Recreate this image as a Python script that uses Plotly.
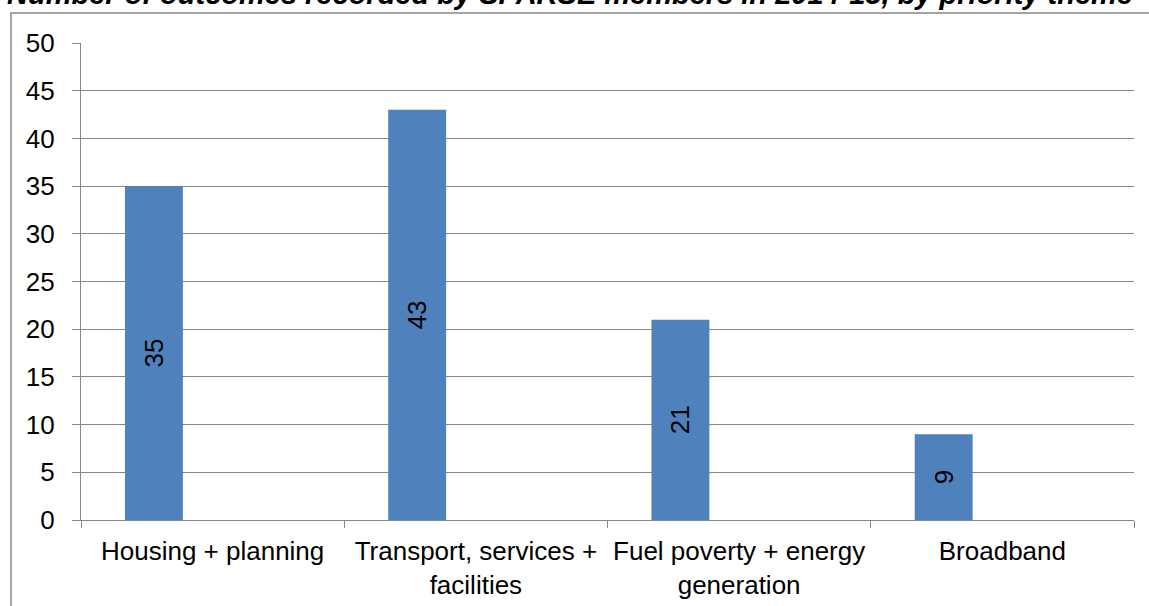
import plotly.graph_objects as go

# Outcomes per priority theme
themes = [
    "Housing + planning",
    "Transport, services +<br>facilities",
    "Fuel poverty + energy<br>generation",
    "Broadband",
]
outcomes = [35, 43, 21, 9]

title_text = "Number of outcomes recorded by SPARSE members in 2014-15, by priority theme"

W, H = 1149, 606
ML, MR, MT, MB = 81, 15, 43, 86
PW, PH = W - ML - MR, H - MT - MB

def px_x(x):
    return (x - ML) / PW

def px_y(y):
    return (H - MB - y) / PH

FONT = "Liberation Sans, Arial, sans-serif"
GRID = "#868686"

fig = go.Figure()
fig.add_trace(go.Bar(
    x=themes,
    y=outcomes,
    width=0.22,
    offset=-0.333,
    marker=dict(color="#4f81bd", line=dict(width=0)),
    text=[str(v) for v in outcomes],
    textposition="inside",
    insidetextanchor="middle",
    textangle=-90,
    textfont=dict(family=FONT, size=26, color="#000000"),
    hoverinfo="skip",
))

fig.update_layout(
    width=W, height=H,
    margin=dict(l=ML, r=MR, t=MT, b=MB, pad=0),
    paper_bgcolor="#ffffff",
    plot_bgcolor="#ffffff",
    showlegend=False,
    font=dict(family=FONT, size=26, color="#000000"),
    xaxis=dict(
        type="category",
        tickson="boundaries",
        ticks="outside", ticklen=7, tickwidth=1.3, tickcolor=GRID,
        showline=True, linecolor=GRID, linewidth=1.3,
        showgrid=False, zeroline=False,
        ticklabelstandoff=8,
        automargin=False,
        tickfont=dict(family=FONT, size=26, color="#000000"),
        range=[-0.5, 3.5],
        fixedrange=True,
    ),
    yaxis=dict(
        range=[0, 50], dtick=5, tick0=0,
        ticks="outside", ticklen=8, tickwidth=1.3, tickcolor=GRID,
        showline=True, linecolor=GRID, linewidth=1.3,
        showgrid=True, gridcolor=GRID, gridwidth=1.3,
        zeroline=False,
        ticklabelstandoff=12,
        automargin=False,
        tickfont=dict(family=FONT, size=26, color="#000000"),
        fixedrange=True,
    ),
    shapes=[
        # chart area frame
        dict(type="rect", xref="paper", yref="paper",
             x0=px_x(11), x1=px_x(1160), y0=px_y(620), y1=px_y(13),
             line=dict(color=GRID, width=1.5), fillcolor="rgba(0,0,0,0)",
             layer="below"),
    ],
    annotations=[
        dict(text="<b><i>" + title_text + "</i></b>",
             xref="paper", yref="paper",
             x=px_x(570), y=px_y(12),
             xanchor="center", yanchor="bottom",
             showarrow=False,
             font=dict(family=FONT, size=29, color="#000000")),
    ],
)

fig.write_html("out.html")
